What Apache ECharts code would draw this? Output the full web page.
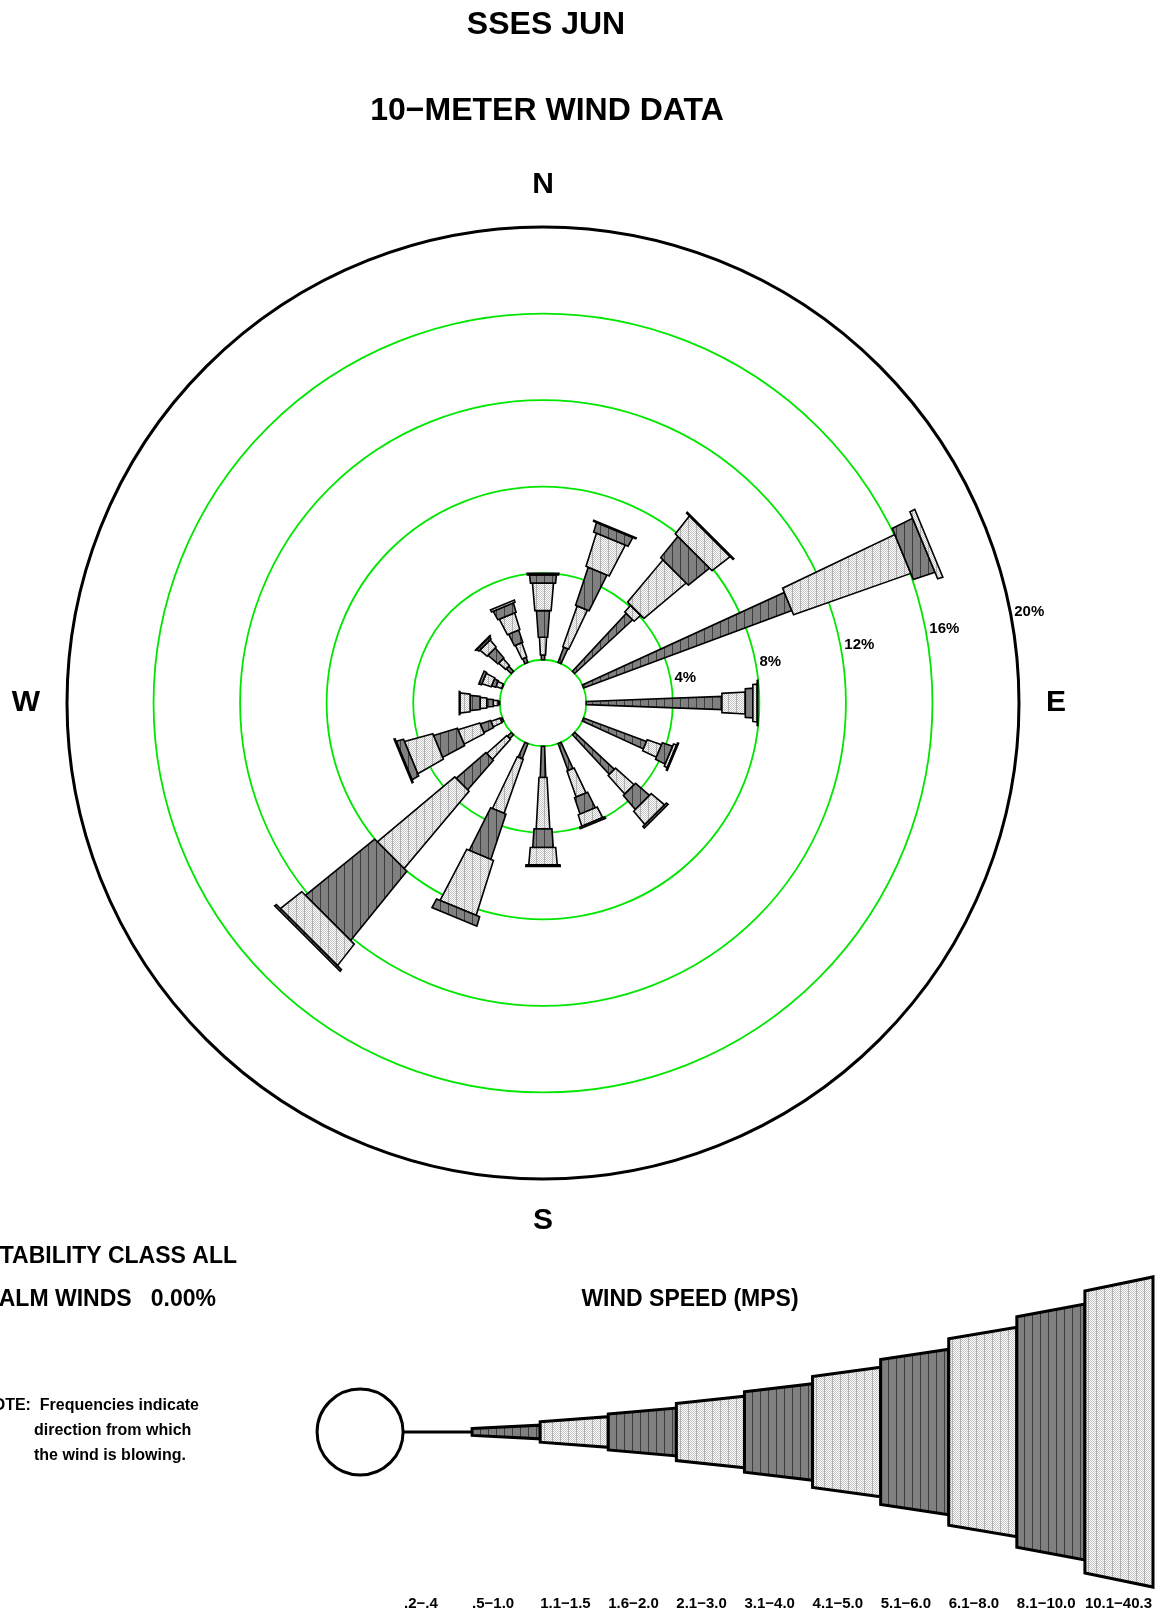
<!DOCTYPE html>
<html><head><meta charset="utf-8">
<script src="https://cdn.jsdelivr.net/npm/echarts@6/dist/echarts.min.js"></script>
<style>html,body{margin:0;padding:0;background:#fff}#chart{width:1156px;height:1613px}</style>
</head><body><div id="chart"></div>
<script>
// ---------------- DATA ----------------
const directions = ['N','NNE','NE','ENE','E','ESE','SE','SSE','S','SSW','SW','WSW','W','WNW','NW','NNW'];
const directionAngles = [0,22.5,45,67.5,90,112.5,135,157.5,180,202.5,225,247.5,270,292.5,315,337.5];
const speedClasses = ['.2\u2212.4','.5\u22121.0','1.1\u22121.5','1.6\u22122.0','2.1\u22123.0','3.1\u22124.0','4.1\u22125.0','5.1\u22126.0','6.1\u22128.0','8.1\u221210.0','10.1\u221240.3'];
// frequency (%) per speed class, for directions N .. NNW
const freq_02_04  = [0,0,0,0,0,0,0,0,0,0,0,0,0,0,0,0];
const freq_05_10  = [0.22,0.75,3.65,10.26,6.27,3.10,2.50,1.33,1.44,0.75,0.25,0.10,0.08,0.03,0.32,0.25];
const freq_11_15  = [0.82,2.00,0.40,5.74,1.08,0.70,1.15,1.27,2.38,2.65,1.24,0.45,0.22,0.27,0.43,0.70];
const freq_16_20  = [1.23,1.85,0.02,1.05,0.35,0.50,0.85,0.80,0.86,2.20,1.81,0.50,0.30,0.20,0.61,0.60];
const freq_21_30  = [1.27,1.60,2.53,0.25,0.20,0.15,0.80,0.55,0.80,2.65,4.65,1.05,0.31,0.45,0.43,0.80];
const freq_31_40  = [0.38,0.45,1.25,0.00,0.03,0.05,0.10,0.08,0.08,0.45,4.10,1.15,0.46,0.13,0.12,0.45];
const freq_41_50  = [0.08,0.05,1.05,0.00,0.00,0.00,0.00,0.00,0.00,0.00,1.25,1.35,0.47,0.00,0.03,0.10];
const freq_51_60  = [0,0,0.05,0,0,0,0,0,0,0,0.10,0.35,0.03,0,0,0];
const freq_61_80  = [0,0,0,0,0,0,0,0,0,0,0,0.05,0,0,0,0];
const freq_81_100 = [0,0,0,0,0,0,0,0,0,0,0,0,0,0,0,0];
const freq_101_403= [0,0,0,0,0,0,0,0,0,0,0,0,0,0,0,0];
const ringValues = [4,8,12,16,20];
const ringLabels = ['4%','8%','12%','16%','20%'];
const compassLabels = {0:'N',90:'E',180:'S',270:'W'};
const calmWinds = '0.00%';

// ---------------- STYLE ----------------
const FONT = '"Liberation Sans", Arial, Helvetica, sans-serif';
const roseHalfWidth = [0,0.037,0.054,0.071,0.088,0.105,0.122,0.139,0.156,0.173,0.19];
const legendHalfWidth = [0,0.05,0.075,0.088,0.105,0.118,0.136,0.152,0.171,0.188,0.207];
const LABEL_ANGLE = 79;

function makePattern(dark){
  const cv = document.createElement('canvas'); cv.width = 8; cv.height = 8;
  const g = cv.getContext('2d');
  if (dark){
    g.fillStyle = '#808080'; g.fillRect(0,0,8,8);
    g.fillStyle = '#3c3c3c'; g.fillRect(0,0,1,8);
  } else {
    g.fillStyle = '#ffffff'; g.fillRect(0,0,8,8);
    g.fillStyle = '#c4c4c4';
    for (let y=0;y<8;y++) for (let x=0;x<8;x++) if ((x+y)%2===0) g.fillRect(x,y,1,1);
    g.fillStyle = '#b0b0b0'; g.fillRect(0,0,1,8);
  }
  return {image: cv, repeat: 'repeat'};
}
const darkFill = makePattern(true), lightFill = makePattern(false);

const classFreqs = [freq_02_04,freq_05_10,freq_11_15,freq_16_20,freq_21_30,freq_31_40,freq_41_50,freq_51_60,freq_61_80,freq_81_100,freq_101_403];
const roseData = [];
directions.forEach((d,i)=>{
  let cum = 0;
  classFreqs.forEach((arr,c)=>{
    const f = arr[i];
    if (f > 0) roseData.push([cum + f, directionAngles[i], c, cum]);
    cum += f;
  });
});

function renderRose(params, api){
  const b = api.value(0), ang = api.value(1), c = api.value(2), a = api.value(3);
  const ctr = api.coord([-2, ang]);
  const p0 = api.coord([a, ang]), p1 = api.coord([b, ang]);
  const dx = p1[0]-ctr[0], dy = p1[1]-ctr[1];
  const R1 = Math.hypot(dx,dy), R0 = Math.hypot(p0[0]-ctr[0], p0[1]-ctr[1]);
  const ux = dx/R1, uy = dy/R1, nx = -uy, ny = ux;
  if (c === 0){
    return {type:'line', shape:{x1:p0[0],y1:p0[1],x2:p1[0],y2:p1[1]}, style:{stroke:'#000',lineWidth:2}};
  }
  const h0 = roseHalfWidth[c]*R0, h1 = roseHalfWidth[c]*R1;
  return {type:'polygon', shape:{points:[
      [p0[0]+nx*h0,p0[1]+ny*h0],[p1[0]+nx*h1,p1[1]+ny*h1],
      [p1[0]-nx*h1,p1[1]-ny*h1],[p0[0]-nx*h0,p0[1]-ny*h0]]},
    style:{fill: c%2 ? darkFill : lightFill, stroke:'#000', lineWidth:1.6, lineJoin:'miter'}};
}

function renderRingLabel(params, api){
  const v = api.value(0);
  const p = api.coord([v, LABEL_ANGLE]);
  return {type:'text', x:p[0]+4, y:p[1], style:{text: ringLabels[params.dataIndex], textAlign:'left', textVerticalAlign:'middle', font:'bold 15px '+FONT, fill:'#000'}};
}

function renderLegend(params, api){
  const c = api.value(0);
  const base = api.coord([0,0]);
  const q0 = api.coord([c,0]), q1 = api.coord([c+1,0]);
  if (c === 0){
    const cc = api.coord([-0.645,0]);
    return {type:'group', children:[
      {type:'line', shape:{x1:cc[0]+43,y1:q0[1],x2:q1[0],y2:q1[1]}, style:{stroke:'#000',lineWidth:3}},
      {type:'circle', shape:{cx:cc[0],cy:cc[1],r:43}, style:{fill:'#fff',stroke:'#000',lineWidth:3}}
    ]};
  }
  const h0 = legendHalfWidth[c]*(q0[0]-base[0]), h1 = legendHalfWidth[c]*(q1[0]-base[0]);
  return {type:'polygon', shape:{points:[[q0[0],q0[1]-h0],[q1[0],q1[1]-h1],[q1[0],q1[1]+h1],[q0[0],q0[1]+h0]]},
    style:{fill: c%2 ? darkFill : lightFill, stroke:'#000', lineWidth:3, lineJoin:'miter'}};
}

const ringColors = ['rgba(0,0,0,0)','#00e600','rgba(0,0,0,0)','#00e600','rgba(0,0,0,0)','#00e600','rgba(0,0,0,0)','#00e600','rgba(0,0,0,0)','#00e600','rgba(0,0,0,0)','rgba(0,0,0,0)'];

const txt = (text,x,y,size,align) => ({type:'text', x, y, silent:true,
  style:{text, font:'bold '+size+'px '+FONT, fill:'#000', textAlign:align||'center', textVerticalAlign:'middle'}});

const chart = echarts.init(document.getElementById('chart'));
chart.setOption({
  animation:false,
  backgroundColor:'#fff',
  polar:{center:[543,703], radius:476},
  angleAxis:{type:'value', min:0, max:360, interval:90, startAngle:90, clockwise:true,
    axisLine:{show:true, lineStyle:{color:'#000', width:3}},
    axisTick:{show:false}, splitLine:{show:false},
    axisLabel:{show:true, margin:27, color:'#000', fontSize:30, fontWeight:'bold', fontFamily:FONT,
      formatter: v => compassLabels[v] || ''}},
  radiusAxis:{type:'value', min:-2, max:20, interval:2,
    axisLine:{show:false}, axisTick:{show:false}, axisLabel:{show:false},
    splitLine:{show:true, lineStyle:{color:ringColors, width:1.8}}},
  grid:{left:404, right:2, top:1332, height:200},
  xAxis:{type:'value', min:0, max:11, interval:1,
    axisLine:{show:false}, axisTick:{show:false}, splitLine:{show:false},
    axisLabel:{show:true, align:'left', margin:64, color:'#000', fontSize:15, fontWeight:'bold', fontFamily:FONT,
      formatter: v => speedClasses[v] || ''}},
  yAxis:{type:'value', min:-1, max:1, show:false},
  graphic:[
    txt('SSES JUN',546,25,32),
    txt('10\u2212METER WIND DATA',547,111,32),
    txt('STABILITY CLASS ALL',237,1257,23,'right'),
    txt('CALM WINDS   '+calmWinds,216,1300,23,'right'),
    txt('NOTE:  Frequencies indicate',199,1406,16,'right'),
    txt('direction from which',34,1431,16,'left'),
    txt('the wind is blowing.',34,1456,16,'left'),
    txt('WIND SPEED (MPS)',690,1300,23)
  ],
  series:[
    {type:'custom', name:'rose', coordinateSystem:'polar', renderItem:renderRose, data:roseData, z:3},
    {type:'custom', name:'rings', coordinateSystem:'polar', renderItem:renderRingLabel, data:ringValues.map(v=>[v, LABEL_ANGLE]), z:4},
    {type:'custom', name:'legend', coordinateSystem:'cartesian2d', renderItem:renderLegend, data:speedClasses.map((s,i)=>[i,0]), z:3}
  ]
});
</script></body></html>
